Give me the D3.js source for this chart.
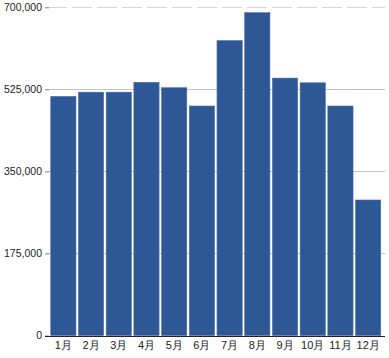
<!DOCTYPE html>
<html><head><meta charset="utf-8">
<script src="https://cdn.jsdelivr.net/npm/d3@7"></script>
<style>
html,body{margin:0;padding:0;background:#fff;}
svg{display:block;font-family:Arial,"Liberation Sans",sans-serif;}
</style></head>
<body>
<svg id="chart" width="389" height="358"></svg>
<script>
const months = ["1月","2月","3月","4月","5月","6月","7月","8月","9月","10月","11月","12月"];
const values = [510000,519000,519000,540000,528500,489500,629000,688500,549000,539000,489500,289000];
const yTicks = [0,175000,350000,525000,700000];

const svg = d3.select("#chart");
const x = d3.scaleBand().domain(months).range([49.5,382]).paddingInner(0.09).paddingOuter(0.045);
const y = d3.scaleLinear().domain([0,700000]).range([335.5,7.3]);

// gridlines
svg.append("g").selectAll("line").data(yTicks.filter(d=>d>0)).join("line")
  .attr("x1",47).attr("x2",385)
  .attr("y1",d=>Math.round(y(d))+0.5).attr("y2",d=>Math.round(y(d))+0.5)
  .attr("stroke",d=>d===700000?"#d4d4d4":"#c4c4c4").attr("stroke-width",1)
  .attr("stroke-dasharray",d=>d===700000?"20,5":null);

// bars
svg.append("g").selectAll("rect").data(values).join("rect")
  .attr("x",(d,i)=>x(months[i]))
  .attr("y",d=>y(d))
  .attr("width",x.bandwidth())
  .attr("height",d=>y(0)-y(d))
  .attr("fill","#2e5895")
  .attr("stroke","#4b70a8").attr("stroke-width",0.6);

// y axis
const yAxis = d3.axisLeft(y).tickValues(yTicks).tickSize(4).tickPadding(3)
  .tickFormat(d3.format(","));
const gy = svg.append("g").attr("transform","translate(49,0)").call(yAxis);
gy.select(".domain").remove();
gy.selectAll(".tick line").attr("stroke","#888");
gy.selectAll("text").attr("font-size",10.5).attr("fill","#222");

// x axis
const xAxis = d3.axisBottom(x).tickSize(0).tickPadding(5);
const gx = svg.append("g").attr("transform",`translate(0,${Math.round(y(0))+0.5})`).call(xAxis);
gx.select(".domain").attr("d","M45,0H385").attr("stroke","#222");
gx.selectAll("text").attr("font-size",11).attr("fill","#222");
</script>
</body></html>
